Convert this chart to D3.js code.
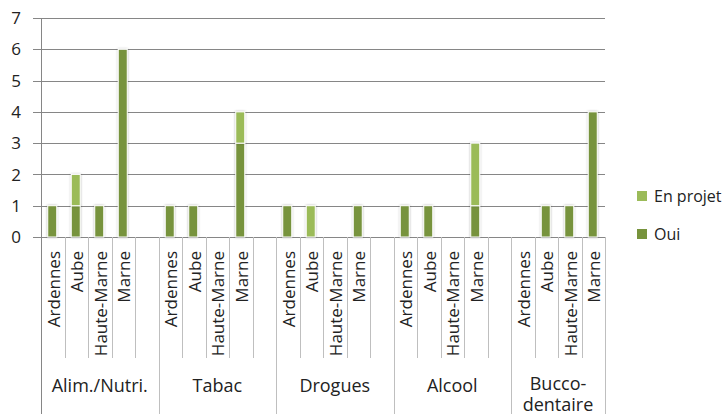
<!DOCTYPE html>
<html>
<head>
<meta charset="utf-8">
<script src="https://cdn.jsdelivr.net/npm/d3@7"></script>
<style>
html,body{margin:0;padding:0;background:#fff;}
svg{display:block;font-family:"Open Sans",Lato,sans-serif;}
</style>
</head>
<body>
<svg id="chart" width="724" height="414"></svg>
<script>
const groups = ["Alim./Nutri.", "Tabac", "Drogues", "Alcool", "Bucco-dentaire"];
const regions = ["Ardennes", "Aube", "Haute-Marne", "Marne"];
const seriesNames = ["Oui", "En projet"];
const ouiValues = [[1, 1, 1, 6], [1, 1, 0, 3], [1, 0, 0, 1], [1, 1, 0, 1], [0, 1, 1, 4]];
const enProjetValues = [[0, 1, 0, 0], [0, 0, 0, 1], [0, 1, 0, 0], [0, 0, 0, 2], [0, 0, 0, 0]];
const yTicks = [0, 1, 2, 3, 4, 5, 6, 7];
const colors = {"Oui": "#77933C", "En projet": "#9BBB59"};

(function () {
const svg = d3.select("#chart");
const mLeft = 41, mRight = 605, mTop = 18, mBottom = 237;

const slots = [];
groups.forEach((g, gi) => {
  regions.forEach((r, ri) => slots.push({key: gi + "-" + ri, g: gi, r: ri, label: r}));
  if (gi < groups.length - 1) slots.push({key: gi + "-blank", g: gi, r: -1, label: ""});
});

const x = d3.scaleBand().domain(slots.map(s => s.key)).range([mLeft, mRight]).padding(0);
const y = d3.scaleLinear().domain([0, 7]).range([mBottom, mTop]);
const bw = x.bandwidth();

const defs = svg.append("defs");
const f = defs.append("filter").attr("id", "sh").attr("x", "-50%").attr("y", "-10%").attr("width", "200%").attr("height", "120%");
f.append("feDropShadow").attr("dx", 0).attr("dy", 0).attr("stdDeviation", 1.2).attr("flood-color", "#000").attr("flood-opacity", 0.3);

// gridlines
svg.append("g").selectAll("line").data(yTicks).join("line")
  .attr("x1", mLeft - 8).attr("x2", mRight)
  .attr("y1", d => Math.round(y(d)) + 0.5).attr("y2", d => Math.round(y(d)) + 0.5)
  .attr("stroke", "#868686").attr("stroke-width", 1);

// y axis line
svg.append("line").attr("x1", mLeft + 0.5).attr("x2", mLeft + 0.5).attr("y1", mTop).attr("y2", 414)
  .attr("stroke", "#868686");

// y labels
svg.append("g").selectAll("text").data(yTicks).join("text")
  .attr("x", 21).attr("y", d => y(d)).attr("dy", "0.36em")
  .attr("text-anchor", "end").attr("font-size", 17).attr("fill", "#222")
  .text(d => d);

// category separators
const sepG = svg.append("g");
slots.forEach((s, i) => {
  const xb = x(s.key) + bw;
  const isGroupEnd = (s.r === -1) || (i === slots.length - 1);
  sepG.append("line").attr("x1", Math.round(xb) + 0.5).attr("x2", Math.round(xb) + 0.5)
    .attr("y1", mBottom).attr("y2", isGroupEnd ? 414 : 358)
    .attr("stroke", "#BFBFBF").attr("stroke-width", 1);
});

// stacked data
const stackData = [];
slots.filter(s => s.r >= 0).forEach(s => {
  const o = ouiValues[s.g][s.r], p = enProjetValues[s.g][s.r];
  if (o > 0) stackData.push({key: s.key, series: "Oui", y0: 0, y1: o});
  if (p > 0) stackData.push({key: s.key, series: "En projet", y0: o, y1: o + p});
});

const barW = 9;
svg.append("g").selectAll("rect").data(stackData).join("rect")
  .attr("x", d => x(d.key) + bw / 2 - barW / 2 - 0.5)
  .attr("y", d => y(d.y1))
  .attr("width", barW)
  .attr("height", d => y(d.y0) - y(d.y1))
  .attr("fill", d => colors[d.series])
  .attr("stroke", "#fff").attr("stroke-width", 1)
  .attr("filter", "url(#sh)");

// region labels
svg.append("g").selectAll("text").data(slots.filter(s => s.r >= 0)).join("text")
  .attr("transform", d => `translate(${x(d.key) + bw / 2 + 7},251) rotate(-90)`)
  .attr("text-anchor", "end").attr("font-size", 17).attr("fill", "#222")
  .text(d => d.label);

// group labels
const gl = svg.append("g");
groups.forEach((g, gi) => {
  const keys = slots.filter(s => s.g === gi).map(s => s.key);
  const x0 = x(keys[0]), x1 = x(keys[keys.length - 1]) + bw;
  const cx = (x0 + x1) / 2;
  const lines = g === "Bucco-dentaire" ? ["Bucco-", "dentaire"] : [g];
  lines.forEach((t, li) => {
    gl.append("text").attr("x", cx).attr("y", (lines.length > 1 ? 390 : 392) + li * 21)
      .attr("text-anchor", "middle").attr("font-size", 18).attr("fill", "#222").text(t);
  });
});

// legend
const legendItems = ["En projet", "Oui"];
const lg = svg.append("g");
legendItems.forEach((name, i) => {
  const ly = 196 + i * 38;
  lg.append("rect").attr("x", 637).attr("y", ly - 5).attr("width", 10).attr("height", 10)
    .attr("fill", colors[name]);
  lg.append("text").attr("x", 654).attr("y", ly).attr("dy", "0.36em")
    .attr("font-size", 16).attr("fill", "#222").text(name);
});
})();
</script>
</body>
</html>
